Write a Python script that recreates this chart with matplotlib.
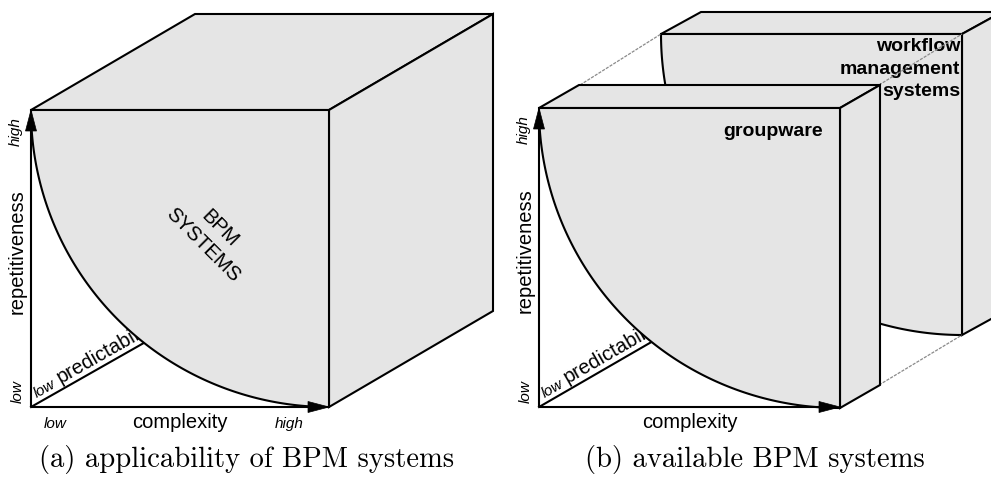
import numpy as np
import matplotlib.pyplot as plt
from matplotlib.patches import Polygon

# labels
axis_labels = ['repetitiveness', 'complexity', 'predictability']
level_labels = ['low', 'high']
captions = ['(a) applicability of BPM systems', '(b) available BPM systems']
cube_label = 'BPM\nSYSTEMS'
box_labels = ['groupware', 'workflow\nmanagement\nsystems']

GRAY = '#e5e5e5'
SANS = 'Liberation Sans'
LW = 1.5

fig = plt.figure(figsize=(9.91, 4.79), dpi=100)
ax = fig.add_axes([0, 0, 1, 1])
ax.set_xlim(0, 991)
ax.set_ylim(479, 0)
ax.axis('off')


def box(x0, y0, w, h, dx, dy, z):
    # front face = quarter disk centred on the top-right corner
    cx, cy = x0 + w, y0
    t = np.linspace(np.pi, np.pi / 2, 200)
    arc = np.column_stack([cx + w * np.cos(t), cy + h * np.sin(t)])
    ax.add_patch(Polygon([(x0, y0), (cx, cy), (cx + dx, cy + dy), (x0 + dx, y0 + dy)],
                         fc=GRAY, ec='k', lw=LW, zorder=z))
    ax.add_patch(Polygon([(cx, cy), (cx + dx, cy + dy), (cx + dx, cy + h + dy), (cx, cy + h)],
                         fc=GRAY, ec='k', lw=LW, zorder=z))
    ax.add_patch(Polygon(np.vstack([[cx, cy], arc]), fc=GRAY, ec='k', lw=LW, zorder=z))


def arrow(x0, y0, x1, y1):
    d = np.array([x1 - x0, y1 - y0], float)
    u = d / np.hypot(*d)
    n = np.array([-u[1], u[0]])
    hl, hw = 21, 5.5
    base = np.array([x1, y1]) - u * hl
    ax.plot([x0, base[0]], [y0, base[1]], color='k', lw=LW, zorder=6, solid_capstyle='butt')
    ax.add_patch(Polygon([(x1, y1), base + n * hw, base - n * hw], fc='k', ec='k', lw=0.5, zorder=6))


def axes3(ox, oy, w, h, ddir, bottom_levels):
    arrow(ox, oy, ox, oy - h)
    arrow(ox, oy, ox + w, oy)
    u = np.array(ddir, float) / np.hypot(*ddir)
    nrm = np.array([u[1], -u[0]])  # up-left
    end = np.array([ox, oy]) + u * 260
    ax.plot([ox, end[0]], [oy, end[1]], color='k', lw=LW, zorder=1)
    ang = np.degrees(np.arctan2(-u[1], u[0]))
    p = np.array([ox, oy]) + u * 9 + nrm * 5
    ax.text(p[0], p[1], level_labels[0], fontsize=11, style='italic', family=SANS,
            rotation=ang, rotation_mode='anchor', ha='left', va='baseline', zorder=1)
    p = np.array([ox, oy]) + u * 37 + nrm * 6
    ax.text(p[0], p[1], axis_labels[2], fontsize=14.5, family=SANS,
            rotation=ang, rotation_mode='anchor', ha='left', va='baseline', zorder=1)
    ax.text(ox - 15, oy - h + 22, level_labels[1], fontsize=11, style='italic', family=SANS,
            rotation=90, ha='center', va='center')
    ax.text(ox - 14, oy - h / 2 - 7, axis_labels[0], fontsize=14.5, family=SANS,
            rotation=90, ha='center', va='center')
    ax.text(ox - 13, oy - 15, level_labels[0], fontsize=11, style='italic', family=SANS,
            rotation=90, ha='center', va='center')
    ax.text(ox + w / 2, oy + 15, axis_labels[1], fontsize=14.5, family=SANS,
            ha='center', va='center')
    if bottom_levels:
        ax.text(ox + 24, oy + 17, level_labels[0], fontsize=11, style='italic', family=SANS,
                ha='center', va='center')
        ax.text(ox + w - 40, oy + 17, level_labels[1], fontsize=11, style='italic', family=SANS,
                ha='center', va='center')


# (a) single cube
box(31, 110, 298, 297, 164, -96, 2)
axes3(31, 407, 298, 297, (111, -63), True)
ax.text(211, 237, cube_label, fontsize=14.5, family=SANS, rotation=-45, linespacing=1.3,
        rotation_mode='anchor', ha='center', va='center', multialignment='center', zorder=3)

# (b) workflow box behind groupware box
box(661, 34, 301, 301, 40, -22, 2)
ax.text(960, 69, box_labels[1], fontsize=14, weight='bold', family=SANS,
        ha='right', va='center', multialignment='right', linespacing=1.45, zorder=3)
for (xa, ya), (xb, yb) in [((580, 85), (661, 34)), ((879, 85), (962, 34)), ((879, 385), (962, 335))]:
    ax.plot([xa, xb], [ya, yb], color='#8a8a8a', lw=0.9, ls=(0, (2.5, 1)), zorder=3)
box(539, 108, 301, 300, 40, -23, 4)
ax.text(823, 132, box_labels[0], fontsize=14, weight='bold', family=SANS,
        ha='right', va='center', zorder=5)
axes3(539, 407, 301, 299, (109, -63), False)

# captions
ax.text(247, 467, captions[0], fontsize=20.6, family='cmr10', ha='center', va='baseline')
ax.text(755, 467, captions[1], fontsize=20.6, family='cmr10', ha='center', va='baseline')

fig.savefig('out.png', dpi=100)
